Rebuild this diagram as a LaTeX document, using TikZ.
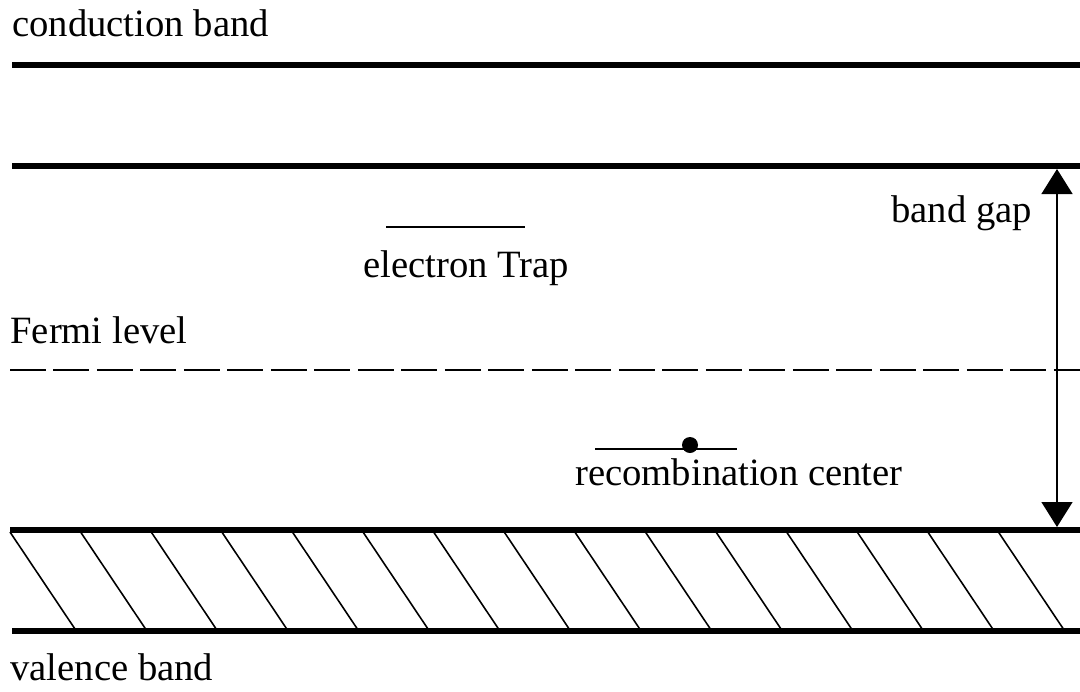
\documentclass[tikz,border=0pt]{standalone}
\usepackage{fontspec}
\setmainfont{Liberation Serif}
\usetikzlibrary{arrows.meta}
\tikzstyle{band} = [line width=3.4pt]
\tikzstyle{level} = [line width=0.9pt]
\tikzstyle{fermi} = [line width=0.8pt, dash pattern=on 0.72cm off 0.15cm]
\tikzstyle{hatch} = [line width=0.9pt]
\tikzstyle{label} = [inner sep=0pt, anchor=base west, font=\fontsize{22}{26}\selectfont]
\tikzstyle{arrow} = [line width=0.8pt, {Triangle[length=0.5cm,width=0.62cm]}-{Triangle[length=0.5cm,width=0.62cm]}]

\begin{document}
\begin{tikzpicture}[x=0.02cm, y=-0.02cm]
\useasboundingbox (0,0) rectangle (1080,691);

% bands
\draw [band] (12,65) -- (1080,65);
\draw [band] (12,166) -- (1080,166);
\draw [band] (10,530) -- (1080,530);
\draw [band] (12,631) -- (1080,631);

% hatching of the valence band
\foreach \i in {0,...,14}
  \draw [hatch] (10+70.6*\i,532) -- (75+70.6*\i,629);

% fermi level
\draw [fermi] (10,370) -- (1080,370);

% trap levels
\draw [level] (386,227) -- (525,227);
\draw [level] (595,449) -- (737,449);
\fill (690,445) circle (8);

% band gap
\coordinate (gaptop) at (1057,169);
\coordinate (gapbot) at (1057,527);
\draw [arrow] (gapbot) -- (gaptop);

% labels
\node (cb) [label] at (12,36) {conduction band};
\node (fl) [label] at (10,343) {Fermi level};
\node (vb) [label] at (10,680) {valence band};
\node (et) [label] at (363,277) {electron Trap};
\node (rc) [label] at (575,485) {recombination center};
\node (bg) [label] at (891,222) {band gap};

\end{tikzpicture}
\end{document}
